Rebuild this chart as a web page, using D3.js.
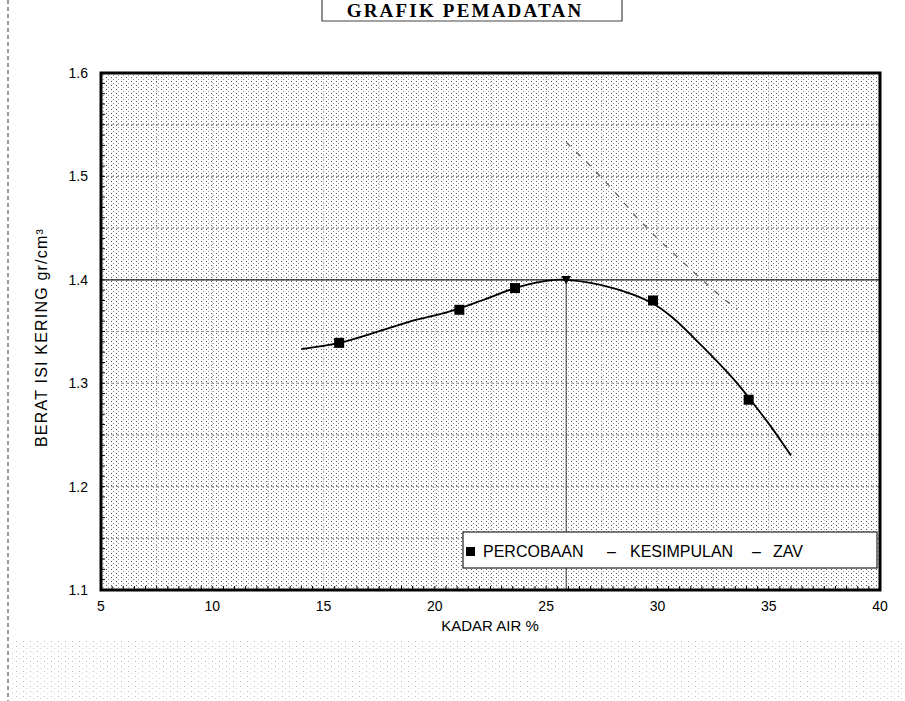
<!DOCTYPE html>
<html>
<head>
<meta charset="utf-8">
<script src="https://cdn.jsdelivr.net/npm/d3@7/dist/d3.min.js"></script>
<style>
  html, body { margin: 0; padding: 0; background: #fff; }
  svg { display: block; }
</style>
</head>
<body>
<svg id="chart" width="905" height="701"></svg>
<script>
// Compaction test: dry density vs. water content
const xTicks = [5, 10, 15, 20, 25, 30, 35, 40];
const yTicks = [1.1, 1.2, 1.3, 1.4, 1.5, 1.6];

// PERCOBAAN (test points)
const testWater   = [15.7, 21.1, 23.6, 29.8, 34.1];
const testDensity = [1.339, 1.371, 1.392, 1.380, 1.284];

// KESIMPULAN (fitted compaction curve)
const fitWater   = [14.0, 15.7, 17.6, 19.1, 20.6, 22.1, 23.6, 24.5, 25.4, 25.9, 27.0, 28.0, 29.0, 29.8, 30.7, 32.0, 33.5, 34.1, 35.1, 36.0];
const fitDensity = [1.333, 1.339, 1.351, 1.361, 1.369, 1.380, 1.392, 1.397, 1.400, 1.400, 1.397, 1.392, 1.385, 1.377, 1.363, 1.336, 1.302, 1.286, 1.258, 1.230];

// ZAV (zero air voids line)
const zavWater   = [25.9, 27.0, 28.0, 29.0, 30.0, 31.0, 32.0, 33.0, 33.6];
const zavDensity = [1.533, 1.510, 1.487, 1.462, 1.440, 1.420, 1.400, 1.381, 1.372];

// Optimum moisture content / maximum dry density
const optimumWater = [25.9];
const maxDensity   = [1.400];

const legendLabels = ["PERCOBAAN", "KESIMPULAN", "ZAV"];

const svg = d3.select("#chart");
const W = 905, H = 701;
const pLeft = 101, pRight = 880, pTop = 73, pBottom = 590;

const x = d3.scaleLinear().domain([5, 40]).range([pLeft, pRight]);
const y = d3.scaleLinear().domain([1.1, 1.6]).range([pBottom, pTop]);

const defs = svg.append("defs");
// stipple fill of the plotting area
const pat = defs.append("pattern")
  .attr("id", "stipple").attr("patternUnits", "userSpaceOnUse")
  .attr("width", 5).attr("height", 4);
pat.append("rect").attr("width", 5).attr("height", 4).attr("fill", "#fff");
pat.append("rect").attr("x", 1).attr("y", 1).attr("width", 1).attr("height", 1).attr("fill", "#555");
pat.append("rect").attr("x", 3).attr("y", 3).attr("width", 1).attr("height", 1).attr("fill", "#999");
// sparse paper grain below the chart
const grain = defs.append("pattern")
  .attr("id", "grain").attr("patternUnits", "userSpaceOnUse")
  .attr("width", 7).attr("height", 5);
grain.append("rect").attr("x", 2).attr("y", 1).attr("width", 1).attr("height", 1).attr("fill", "#bbb");
grain.append("rect").attr("x", 5).attr("y", 3).attr("width", 1).attr("height", 1).attr("fill", "#d4d4d4");

svg.append("rect").attr("x", 10).attr("y", 640).attr("width", W - 10).attr("height", H - 640)
  .attr("fill", "url(#grain)");

// page margin line and title frame
svg.append("line").attr("x1", 8).attr("x2", 8).attr("y1", 0).attr("y2", H)
  .attr("stroke", "#555").attr("stroke-width", 1.2).attr("stroke-dasharray", "4,3");

svg.append("path")
  .attr("d", "M322,0 V21 H622 V0")
  .attr("fill", "none").attr("stroke", "#444").attr("stroke-width", 1.2);

svg.append("text")
  .attr("x", 465).attr("y", 17)
  .attr("text-anchor", "middle")
  .attr("font-family", "'Liberation Serif', 'DejaVu Serif', serif")
  .attr("font-weight", "bold").attr("font-size", 19)
  .attr("letter-spacing", 2.2)
  .text("GRAFIK PEMADATAN");

// plot background
svg.append("rect")
  .attr("x", pLeft).attr("y", pTop).attr("width", pRight - pLeft).attr("height", pBottom - pTop)
  .attr("fill", "url(#stipple)");

// grid lines
const g = svg.append("g");
g.selectAll(".hgrid").data(d3.range(1.15, 1.6, 0.05))
  .join("line")
  .attr("x1", pLeft).attr("x2", pRight)
  .attr("y1", d => y(d)).attr("y2", d => y(d))
  .attr("stroke", "#777").attr("stroke-width", 0.8).attr("stroke-dasharray", "3,2");
g.selectAll(".vgrid").data(d3.range(7.5, 40, 2.5))
  .join("line")
  .attr("x1", d => x(d)).attr("x2", d => x(d))
  .attr("y1", pTop).attr("y2", pBottom)
  .attr("stroke", "#999").attr("stroke-width", 0.8).attr("stroke-dasharray", "1,2");

// minor ticks along axes
g.selectAll(".ytick").data(d3.range(1.1, 1.6001, 0.01))
  .join("line")
  .attr("x1", pLeft).attr("x2", pLeft + 4)
  .attr("y1", d => y(d)).attr("y2", d => y(d))
  .attr("stroke", "#000").attr("stroke-width", 1);
g.selectAll(".xtick").data(d3.range(5, 40.001, 0.5))
  .join("line")
  .attr("x1", d => x(d)).attr("x2", d => x(d))
  .attr("y1", pBottom).attr("y2", pBottom - 4)
  .attr("stroke", "#000").attr("stroke-width", 1);

// maximum dry density line and optimum water content line
svg.append("line")
  .attr("x1", pLeft).attr("x2", pRight)
  .attr("y1", y(maxDensity[0])).attr("y2", y(maxDensity[0]))
  .attr("stroke", "#222").attr("stroke-width", 1.2);
svg.append("line")
  .attr("x1", x(optimumWater[0])).attr("x2", x(optimumWater[0]))
  .attr("y1", y(maxDensity[0])).attr("y2", pBottom)
  .attr("stroke", "#333").attr("stroke-width", 1);

// ZAV line
const zavLine = d3.line().x((d, i) => x(zavWater[i])).y((d, i) => y(zavDensity[i]));
svg.append("path")
  .attr("d", zavLine(zavWater))
  .attr("fill", "none").attr("stroke", "#666").attr("stroke-width", 1.3)
  .attr("stroke-dasharray", "6,8");

// fitted curve
const fitLine = d3.line()
  .x((d, i) => x(fitWater[i])).y((d, i) => y(fitDensity[i]))
  .curve(d3.curveCatmullRom.alpha(0.5));
svg.append("path")
  .attr("d", fitLine(fitWater))
  .attr("fill", "none").attr("stroke", "#000").attr("stroke-width", 1.8);

// test points
svg.selectAll(".pt").data(testWater)
  .join("rect")
  .attr("x", (d, i) => x(d) - 5).attr("y", (d, i) => y(testDensity[i]) - 5)
  .attr("width", 10).attr("height", 10).attr("fill", "#000");

// marker at the optimum
svg.append("path")
  .attr("d", d3.symbol().type(d3.symbolTriangle).size(40)())
  .attr("transform", `translate(${x(optimumWater[0])},${y(maxDensity[0]) - 1}) rotate(180)`)
  .attr("fill", "#000");

// frame
svg.append("rect")
  .attr("x", pLeft).attr("y", pTop).attr("width", pRight - pLeft).attr("height", pBottom - pTop)
  .attr("fill", "none").attr("stroke", "#000").attr("stroke-width", 3);

// axis labels
const font = "'Liberation Sans', Arial, sans-serif";
svg.selectAll(".yl").data(yTicks)
  .join("text")
  .attr("x", 88).attr("y", d => y(d) + 5)
  .attr("text-anchor", "end")
  .attr("font-family", font).attr("font-size", 14)
  .text(d => d3.format(".1f")(d));
svg.selectAll(".xl").data(xTicks)
  .join("text")
  .attr("x", d => x(d)).attr("y", 611)
  .attr("text-anchor", "middle")
  .attr("font-family", font).attr("font-size", 14)
  .text(d => d);

svg.append("text")
  .attr("x", 490).attr("y", 631)
  .attr("text-anchor", "middle")
  .attr("font-family", font).attr("font-size", 15)
  .text("KADAR AIR %");

svg.append("text")
  .attr("transform", `translate(47,${(pTop + pBottom) / 2 + 6}) rotate(-90)`)
  .attr("text-anchor", "middle")
  .attr("font-family", font).attr("font-size", 16)
  .attr("letter-spacing", 1.2)
  .text("BERAT ISI KERING gr/cm³");

// legend
const lg = svg.append("g").attr("font-family", font).attr("font-size", 16);
lg.append("rect")
  .attr("x", 463).attr("y", 532).attr("width", 414).attr("height", 36)
  .attr("fill", "#fff").attr("stroke", "#222").attr("stroke-width", 1.2);
lg.append("rect").attr("x", 466).attr("y", 547).attr("width", 9).attr("height", 9).attr("fill", "#000");
lg.append("text").attr("x", 483).attr("y", 557).text(legendLabels[0]);
lg.append("text").attr("x", 607).attr("y", 557).text("–");
lg.append("text").attr("x", 630).attr("y", 557).text(legendLabels[1]);
lg.append("text").attr("x", 752).attr("y", 557).text("–");
lg.append("text").attr("x", 773).attr("y", 557).text(legendLabels[2]);
</script>
</body>
</html>
